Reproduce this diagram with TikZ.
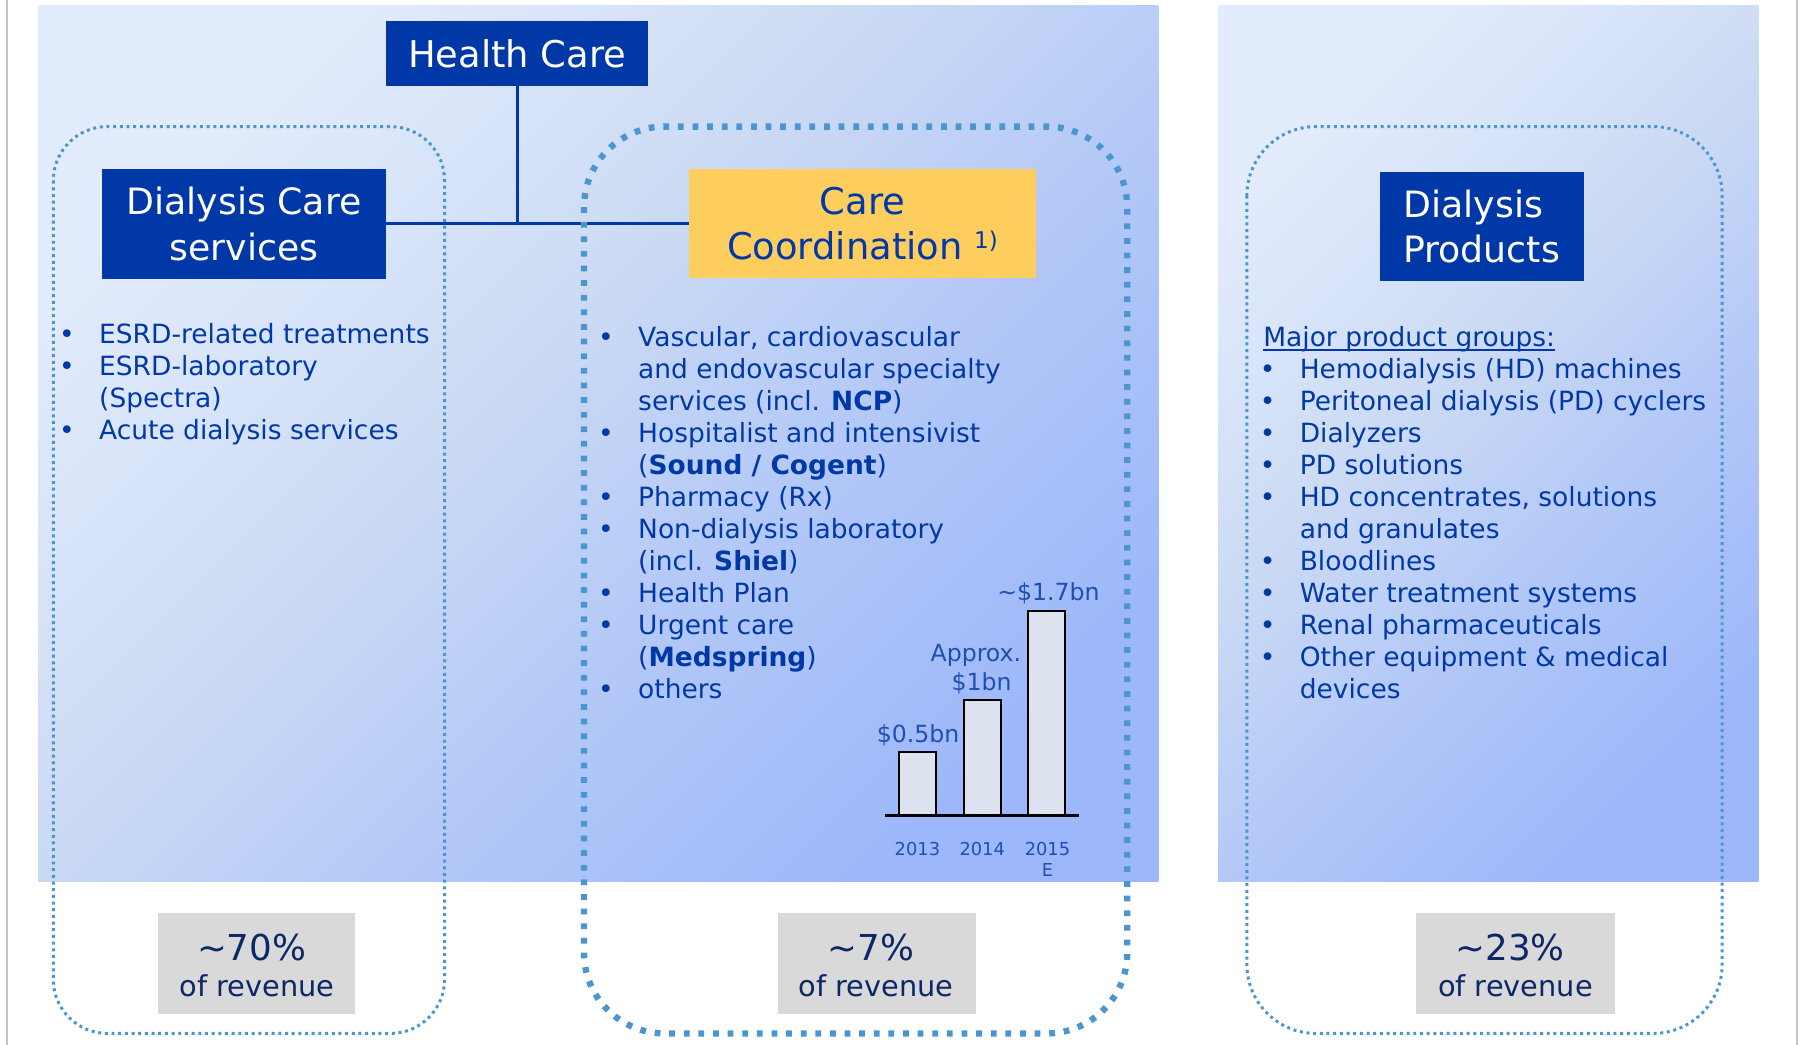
\documentclass[tikz,border=0pt]{standalone}
\usepackage{fontspec}
\setmainfont{DejaVu Sans}
\usetikzlibrary{calc}
\definecolor{dkblue}{HTML}{0038A8}
\definecolor{listblue}{HTML}{0038A8}
\definecolor{ccyellow}{HTML}{FDCD5E}
\definecolor{dotblue}{HTML}{4B96CE}
\definecolor{pctgray}{HTML}{D9D9D9}
\definecolor{pctnavy}{HTML}{0C2766}
\definecolor{barfill}{HTML}{DCE3EE}
\definecolor{barlabel}{HTML}{1F4FB4}
\definecolor{framegray}{HTML}{C4C4C4}
\definecolor{gA}{HTML}{9DB8FA}
\definecolor{gB}{HTML}{B4C9F7}
\definecolor{gC}{HTML}{CCDBF4}
\definecolor{gD}{HTML}{E3ECFC}
\pgfdeclareverticalshading{panelshade}{100bp}{color(0bp)=(gA); color(25bp)=(gA); color(42bp)=(gB); color(56bp)=(gC); color(75bp)=(gD); color(100bp)=(gD)}
\newcommand\lbul{\llap{\makebox[56pt]{•}}}
\tikzset{
  panel/.style={shading=panelshade, shading angle=45, draw=none},
  framel/.style={draw=framegray, line width=1.2pt},
  conn/.style={draw=dkblue, line width=2.4pt},
  hbox/.style={fill=dkblue, text=white, inner sep=0pt, outer sep=0pt, align=center, font=\fontsize{31.5}{39.5}\selectfont},
  ccbox/.style={fill=ccyellow, text=dkblue, inner sep=0pt, outer sep=0pt, align=center, font=\fontsize{32}{39.5}\selectfont},
  thindot/.style={draw=dotblue, line width=2.6pt, dash pattern=on 2.6pt off 3.2pt},
  thickdot/.style={draw=dotblue, line width=5.5pt, dash pattern=on 5pt off 7.7pt},
  listtxt/.style={anchor=base west, inner sep=0pt, text=listblue, font=\fontsize{23}{27.8}\selectfont},
  pctbox/.style={fill=pctgray, draw=none, inner sep=0pt},
  pctbig/.style={anchor=base, inner sep=0pt, text=pctnavy, font=\fontsize{31}{31}\selectfont},
  pctsmall/.style={anchor=base, inner sep=0pt, text=pctnavy, font=\fontsize{25}{25}\selectfont},
  barbox/.style={draw=black, fill=barfill, line width=1.8pt, inner sep=0pt, outer sep=0pt, anchor=south, minimum width=32pt},
  baraxis/.style={draw=black, line width=2pt},
  barlbl/.style={anchor=base, inner sep=0pt, text=barlabel, font=\fontsize{20.5}{20.5}\selectfont},
  yearlbl/.style={anchor=base, inner sep=0pt, text=barlabel, font=\fontsize{15.5}{15.5}\selectfont},
}
\begin{document}
\begin{tikzpicture}[x=1pt,y=-1pt]
\useasboundingbox (0,0) rectangle (1565,908);
\fill[white] (0,0) rectangle (1565,908);
% frame lines
\coordinate (fa0) at (6,0); \coordinate (fa1) at (6,908);
\coordinate (fb0) at (1561.5,0); \coordinate (fb1) at (1561.5,908);
\draw[framel] (fa0) -- (fa1);
\draw[framel] (fb0) -- (fb1);
% panels
\shade[panel] (33.3,5.2) rectangle (1006.5,766);
\shade[panel] (1058.5,5.2) rectangle (1528,766);
% heading boxes
\node[hbox, minimum width=227.6pt, minimum height=56.5pt, font=\fontsize{32}{39.5}\selectfont] (hc) at (449.4,46.5) {Health Care};
\node[hbox, minimum width=247pt, minimum height=95.5pt] (dcs) at (212,194.5) {Dialysis Care\\services};
\node[ccbox, minimum width=301pt, minimum height=95pt] (cc) at (749.5,194.5) {Care\\Coordination~\raisebox{10pt}{\fontsize{20}{20}\selectfont 1)}};
\node[hbox, align=left, minimum width=177pt, minimum height=95pt] (dp) at (1287.5,197) {Dialysis\\Products};
% connectors
\draw[conn] (hc.south) -- (hc.south |- dcs.east);
\draw[conn] (dcs.east) -- (cc.west);
% dotted group outlines
\draw[thindot, rounded corners=47pt] (46.3,110) rectangle (386.3,898);
\draw[thickdot, rounded corners=70pt] (507.5,110) rectangle (979.5,898);
\draw[thindot, rounded corners=60pt] (1083.5,110) rectangle (1496.5,898);
% left list
\node[listtxt] (l1) at (86,298.3) {\lbul ESRD-related treatments};
\node[listtxt] (l2) at (86,326.1) {\lbul ESRD-laboratory};
\node[listtxt] (l3) at (86,353.9) {(Spectra)};
\node[listtxt] (l4) at (86,381.7) {\lbul Acute dialysis services};
% middle list
\node[listtxt] (m1) at (554.4,300.8) {\lbul Vascular, cardiovascular};
\node[listtxt] (m2) at (554.4,328.6) {and endovascular specialty};
\node[listtxt] (m3) at (554.4,356.4) {services (incl. \textbf{NCP})};
\node[listtxt] (m4) at (554.4,384.2) {\lbul Hospitalist and intensivist};
\node[listtxt] (m5) at (554.4,412.0) {(\textbf{Sound / Cogent})};
\node[listtxt] (m6) at (554.4,439.8) {\lbul Pharmacy (Rx)};
\node[listtxt] (m7) at (554.4,467.6) {\lbul Non-dialysis laboratory};
\node[listtxt] (m8) at (554.4,495.4) {(incl. \textbf{Shiel})};
\node[listtxt] (m9) at (554.4,523.2) {\lbul Health Plan};
\node[listtxt] (m10) at (554.4,551.0) {\lbul Urgent care};
\node[listtxt] (m11) at (554.4,578.8) {(\textbf{Medspring})};
\node[listtxt] (m12) at (554.4,606.6) {\lbul others};
% right list
\node[listtxt] (major) at (1097.6,301.2) {Major product groups:};
\draw[draw=listblue, line width=1.4pt] ([yshift=-3pt]major.base west) -- ([yshift=-3pt]major.base east);
\node[listtxt] (r1) at (1129.3,329.0) {\lbul Hemodialysis (HD) machines};
\node[listtxt] (r2) at (1129.3,356.8) {\lbul Peritoneal dialysis (PD) cyclers};
\node[listtxt] (r3) at (1129.3,384.6) {\lbul Dialyzers};
\node[listtxt] (r4) at (1129.3,412.4) {\lbul PD solutions};
\node[listtxt] (r5) at (1129.3,440.2) {\lbul HD concentrates, solutions};
\node[listtxt] (r6) at (1129.3,468.0) {and granulates};
\node[listtxt] (r7) at (1129.3,495.8) {\lbul Bloodlines};
\node[listtxt] (r8) at (1129.3,523.6) {\lbul Water treatment systems};
\node[listtxt] (r9) at (1129.3,551.4) {\lbul Renal pharmaceuticals};
\node[listtxt] (r10) at (1129.3,579.2) {\lbul Other equipment \& medical};
\node[listtxt] (r11) at (1129.3,607.0) {devices};
% bar chart
\node[barbox, minimum height=55.3pt] (b13) at (797.5,708.5) {};
\node[barbox, minimum height=100.2pt] (b14) at (853.5,708.5) {};
\node[barbox, minimum height=177.8pt] (b15) at (909.4,708.5) {};
\coordinate (ax0) at (769,708.5);
\coordinate (ax1) at (938,708.5);
\draw[baraxis] (ax0) -- (ax1);
\node[barlbl] (v13) at (797.7,645.3) {\$0.5bn};
\node[barlbl] (v14a) at (848,575) {Approx.};
\node[barlbl] (v14b) at (853,599.6) {\$1bn};
\node[barlbl] (v15) at (911,522) {\textasciitilde\$1.7bn};
\node[yearlbl] (y13) at (797.2,743) {2013};
\node[yearlbl] (y14) at (853.5,743) {2014};
\node[yearlbl] (y15) at (910.2,743) {2015};
\node[yearlbl] (y15e) at (910.2,761.2) {E};
% revenue share boxes
\node[pctbox, minimum width=171pt, minimum height=88pt] (p70) at (223.1,837) {};
\node[pctbig] (p70a) at (218.7,834.2) {\textasciitilde70\%};
\node[pctsmall] (p70b) at (223.4,866) {of revenue};
\node[pctbox, minimum width=172pt, minimum height=88pt] (p7) at (762,837) {};
\node[pctbig] (p7a) at (757,834.2) {\textasciitilde7\%};
\node[pctsmall] (p7b) at (761.2,866) {of revenue};
\node[pctbox, minimum width=173pt, minimum height=88pt] (p23) at (1316.5,837) {};
\node[pctbig] (p23a) at (1312.3,834.2) {\textasciitilde23\%};
\node[pctsmall] (p23b) at (1316.8,866) {of revenue};
\end{tikzpicture}
\end{document}
